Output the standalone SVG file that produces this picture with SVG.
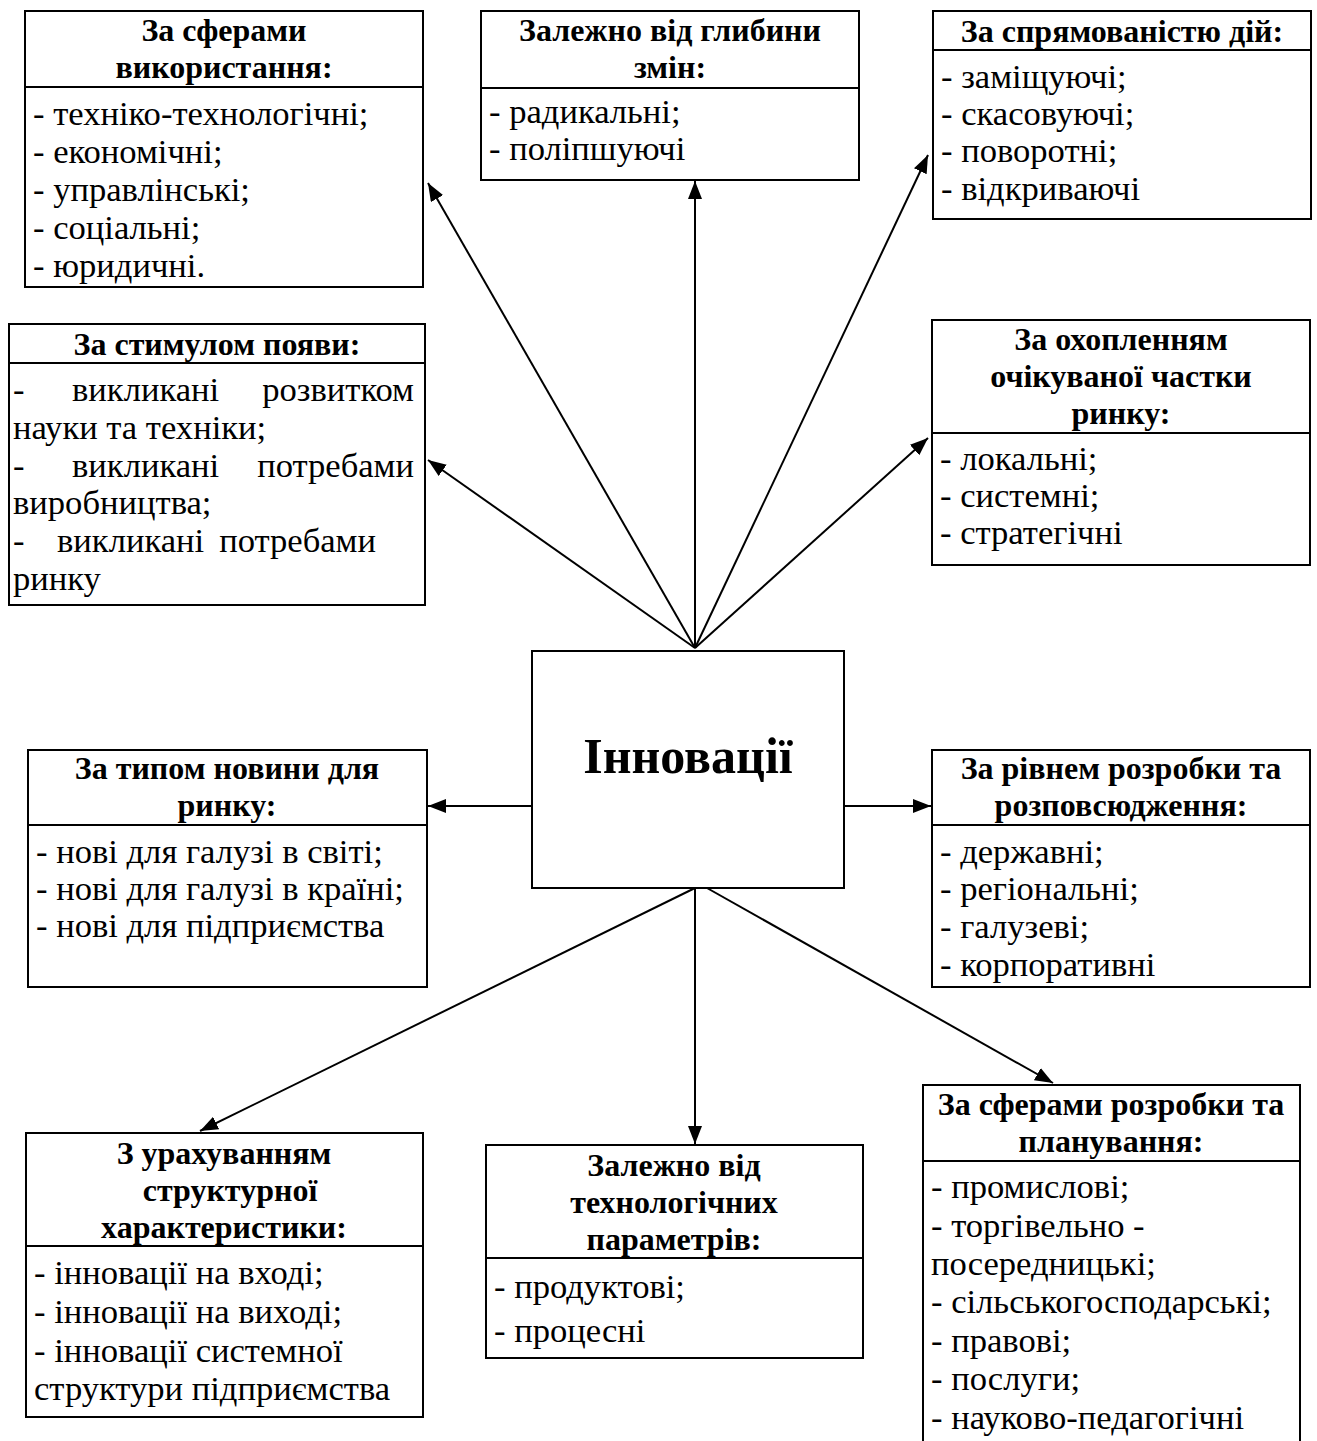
<svg xmlns="http://www.w3.org/2000/svg" width="1317" height="1441" viewBox="0 0 1317 1441">
  <style>
    .box { fill: #fff; stroke: #000; stroke-width: 2; }
    .div { stroke: #000; stroke-width: 2; }
    .ttl { font-family: "Liberation Serif", "Times New Roman", serif; font-size: 32px; font-weight: bold; text-anchor: middle; fill: #000; }
    .itm { font-family: "Liberation Serif", "Times New Roman", serif; font-size: 34.6px; fill: #000; }
    .end { text-anchor: end; }
    .main { font-family: "Liberation Serif", "Times New Roman", serif; font-size: 50px; font-weight: bold; text-anchor: middle; fill: #000; }
    .conn line { stroke: #000; stroke-width: 2; marker-end: url(#arrow); }
  </style>
  <defs>
    <marker id="arrow" markerUnits="userSpaceOnUse" markerWidth="19" markerHeight="14" refX="18" refY="7" orient="auto">
      <path d="M0,0 L18,7 L0,14 z" fill="#000"/>
    </marker>
  </defs>
  <rect width="1317" height="1441" fill="#fff"/>

  <!-- connectors from the central node -->
  <g id="connectors" class="conn">
    <line x1="695" y1="648" x2="428" y2="183"/>
    <line x1="695" y1="648" x2="695" y2="181"/>
    <line x1="695" y1="648" x2="928" y2="155"/>
    <line x1="695" y1="648" x2="428" y2="460"/>
    <line x1="695" y1="648" x2="928" y2="438"/>
    <line x1="532" y1="806" x2="428" y2="806"/>
    <line x1="844" y1="806" x2="931" y2="806"/>
    <line x1="695" y1="888" x2="200" y2="1131"/>
    <line x1="695" y1="888" x2="695" y2="1144"/>
    <line x1="707" y1="888" x2="1053" y2="1083"/>
  </g>

  <!-- central node -->
  <g id="center">
    <rect class="box" x="532" y="651" width="312" height="237"/>
    <text class="main" x="688" y="773">Інновації</text>
  </g>

  <g id="n-use">
    <rect class="box" x="25" y="11" width="398" height="276"/>
    <line class="div" x1="25" y1="87" x2="423" y2="87"/>
    <text class="ttl" x="224" y="41">За сферами</text>
    <text class="ttl" x="224" y="78">використання:</text>
    <text class="itm" x="33" y="125">- техніко-технологічні;</text>
    <text class="itm" x="33" y="163">- економічні;</text>
    <text class="itm" x="33" y="201">- управлінські;</text>
    <text class="itm" x="33" y="239">- соціальні;</text>
    <text class="itm" x="33" y="277">- юридичні.</text>
  </g>

  <g id="n-depth">
    <rect class="box" x="481" y="11" width="378" height="169"/>
    <line class="div" x1="481" y1="88" x2="859" y2="88"/>
    <text class="ttl" x="670" y="41">Залежно від глибини</text>
    <text class="ttl" x="670" y="78">змін:</text>
    <text class="itm" x="489" y="123">- радикальні;</text>
    <text class="itm" x="489" y="160">- поліпшуючі</text>
  </g>

  <g id="n-direction">
    <rect class="box" x="933" y="11" width="378" height="208"/>
    <line class="div" x1="933" y1="50" x2="1311" y2="50"/>
    <text class="ttl" x="1122" y="42">За спрямованістю дій:</text>
    <text class="itm" x="941" y="88">- заміщуючі;</text>
    <text class="itm" x="941" y="125">- скасовуючі;</text>
    <text class="itm" x="941" y="162">- поворотні;</text>
    <text class="itm" x="941" y="200">- відкриваючі</text>
  </g>

  <g id="n-stimulus">
    <rect class="box" x="9" y="324" width="416" height="281"/>
    <line class="div" x1="9" y1="363" x2="425" y2="363"/>
    <text class="ttl" x="217" y="355">За стимулом появи:</text>
    <text class="itm" x="13" y="401">-</text>
    <text class="itm" x="72" y="401">викликані</text>
    <text class="itm end" x="414" y="401">розвитком</text>
    <text class="itm" x="13" y="439">науки та техніки;</text>
    <text class="itm" x="13" y="477">-</text>
    <text class="itm" x="72" y="477">викликані</text>
    <text class="itm end" x="414" y="477">потребами</text>
    <text class="itm" x="13" y="514">виробництва;</text>
    <text class="itm" x="13" y="552">-</text>
    <text class="itm" x="57" y="552">викликані</text>
    <text class="itm end" x="376" y="552">потребами</text>
    <text class="itm" x="13" y="590">ринку</text>
  </g>

  <g id="n-market-share">
    <rect class="box" x="932" y="320" width="378" height="245"/>
    <line class="div" x1="932" y1="433" x2="1310" y2="433"/>
    <text class="ttl" x="1121" y="350">За охопленням</text>
    <text class="ttl" x="1121" y="387">очікуваної частки</text>
    <text class="ttl" x="1121" y="424">ринку:</text>
    <text class="itm" x="940" y="470">- локальні;</text>
    <text class="itm" x="940" y="507">- системні;</text>
    <text class="itm" x="940" y="544">- стратегічні</text>
  </g>

  <g id="n-novelty">
    <rect class="box" x="28" y="750" width="399" height="237"/>
    <line class="div" x1="28" y1="825" x2="427" y2="825"/>
    <text class="ttl" x="227" y="779">За типом новини для</text>
    <text class="ttl" x="227" y="816">ринку:</text>
    <text class="itm" x="36" y="863">- нові для галузі в світі;</text>
    <text class="itm" x="36" y="900">- нові для галузі в країні;</text>
    <text class="itm" x="36" y="937">- нові для підприємства</text>
  </g>

  <g id="n-level">
    <rect class="box" x="932" y="750" width="378" height="237"/>
    <line class="div" x1="932" y1="825" x2="1310" y2="825"/>
    <text class="ttl" x="1121" y="779">За рівнем розробки та</text>
    <text class="ttl" x="1121" y="816">розповсюдження:</text>
    <text class="itm" x="940" y="863">- державні;</text>
    <text class="itm" x="940" y="900">- регіональні;</text>
    <text class="itm" x="940" y="938">- галузеві;</text>
    <text class="itm" x="940" y="976">- корпоративні</text>
  </g>

  <g id="n-structure">
    <rect class="box" x="26" y="1133" width="397" height="284"/>
    <line class="div" x1="26" y1="1246" x2="423" y2="1246"/>
    <text class="ttl" x="224" y="1164">З урахуванням</text>
    <text class="ttl" x="230" y="1201">структурної</text>
    <text class="ttl" x="224" y="1238">характеристики:</text>
    <text class="itm" x="34" y="1284">- інновації на вході;</text>
    <text class="itm" x="34" y="1323">- інновації на виході;</text>
    <text class="itm" x="34" y="1362">- інновації системної</text>
    <text class="itm" x="34" y="1400">структури підприємства</text>
  </g>

  <g id="n-technology">
    <rect class="box" x="486" y="1145" width="377" height="213"/>
    <line class="div" x1="486" y1="1258" x2="863" y2="1258"/>
    <text class="ttl" x="674" y="1176">Залежно від</text>
    <text class="ttl" x="674" y="1213">технологічних</text>
    <text class="ttl" x="674" y="1250">параметрів:</text>
    <text class="itm" x="494" y="1298">- продуктові;</text>
    <text class="itm" x="494" y="1342">- процесні</text>
  </g>

  <g id="n-planning">
    <path class="box" d="M923,1445 V1085 H1300 V1445"/>
    <line class="div" x1="923" y1="1161" x2="1300" y2="1161"/>
    <text class="ttl" x="1111" y="1115">За сферами розробки та</text>
    <text class="ttl" x="1111" y="1152">планування:</text>
    <text class="itm" x="931" y="1198">- промислові;</text>
    <text class="itm" x="931" y="1237">- торгівельно -</text>
    <text class="itm" x="931" y="1275">посередницькі;</text>
    <text class="itm" x="931" y="1313">- сільськогосподарські;</text>
    <text class="itm" x="931" y="1352">- правові;</text>
    <text class="itm" x="931" y="1390">- послуги;</text>
    <text class="itm" x="931" y="1429">- науково-педагогічні</text>
  </g>
</svg>
